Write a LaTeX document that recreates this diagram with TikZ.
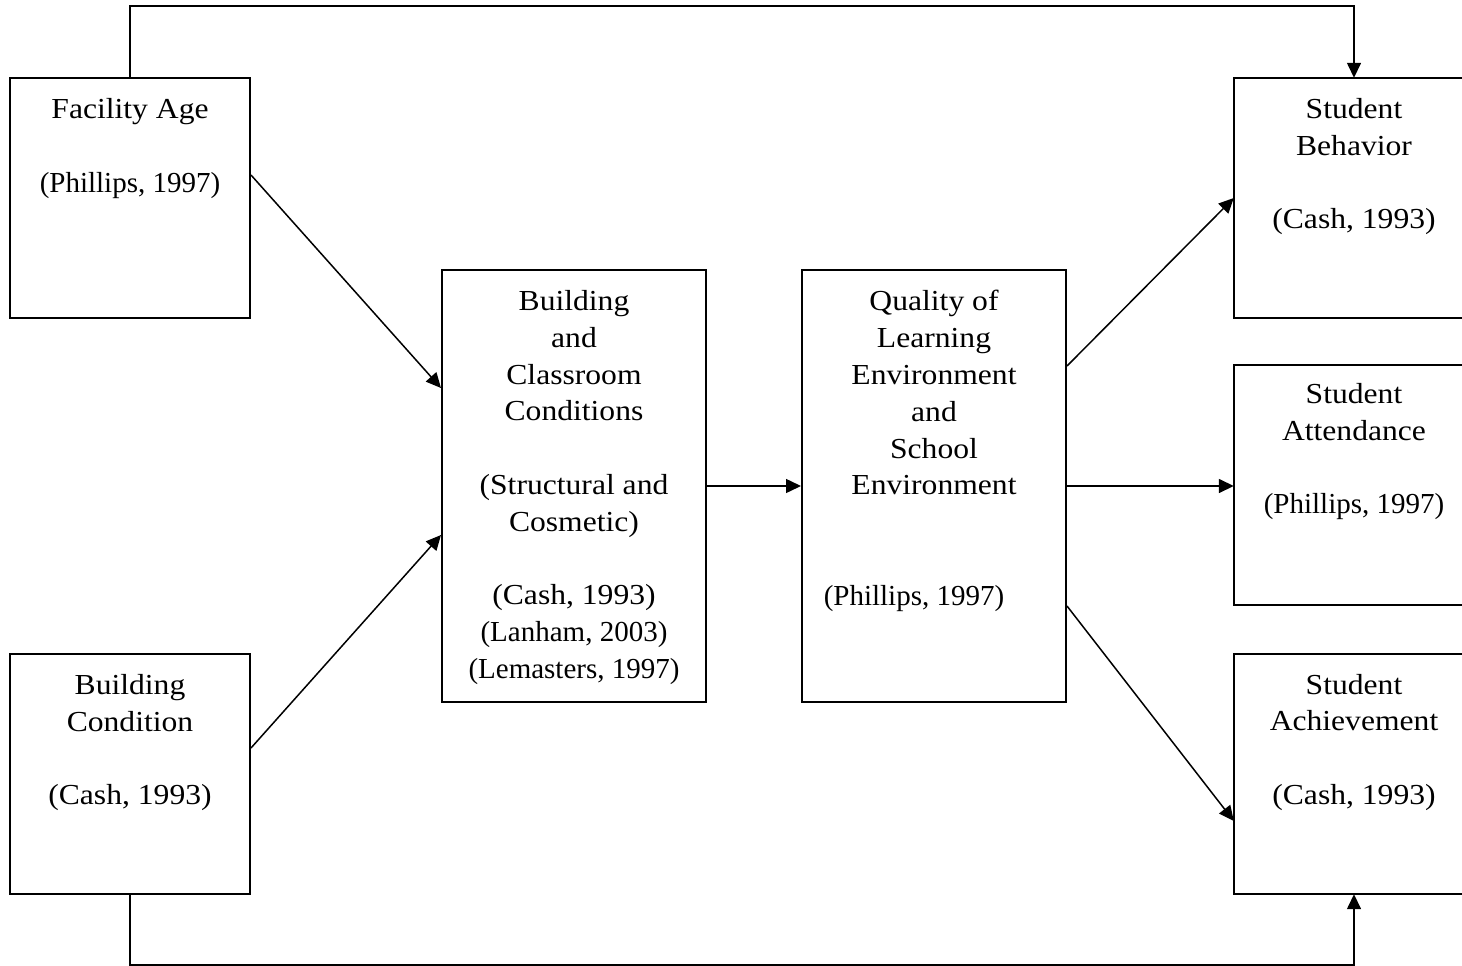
\documentclass[tikz,border=0pt]{standalone}
\usepackage{fontspec}
\setmainfont{Liberation Serif}
\newfontfamily\widefam{Liberation Serif}[FakeStretch=1.09]
\usetikzlibrary{arrows.meta}
\begin{document}
\begin{tikzpicture}[x=1pt,y=-1pt,
  box/.style={draw, line width=2pt, minimum width=240pt, minimum height=240pt, inner sep=0pt},
  openbox/.style={minimum width=240pt, minimum height=240pt, inner sep=0pt},
  tallbox/.style={draw, line width=2pt, minimum width=264pt, minimum height=432pt, inner sep=0pt},
  txt/.style={anchor=north, inner sep=0pt, align=center, font=\fontsize{29}{36.8}\widefam},
  conn/.style={line width=1.5pt, -{Triangle[length=15pt,width=14pt]}},
  edge3/.style={line width=2pt}]
\useasboundingbox (0,0) rectangle (1462,966);
% boxes
\node[box] (fa) at (130,198) {};
\node[box] (bc) at (130,774) {};
\node[tallbox] (bcc) at (574,486) {};
\node[tallbox] (q) at (934,486) {};
\node[openbox] (sb) at (1354,198) {};
\node[openbox] (sa) at (1354,485) {};
\node[openbox] (sach) at (1354,774) {};
\coordinate (re) at (1462,0);
\draw[edge3] (re |- sb.north) -- (sb.north west) -- (sb.south west) -- (re |- sb.south);
\draw[edge3] (re |- sa.north) -- (sa.north west) -- (sa.south west) -- (re |- sa.south);
\draw[edge3] (re |- sach.north) -- (sach.north west) -- (sach.south west) -- (re |- sach.south);
% texts
\node[txt] (fat) at (130,98.2) {Facility Age\\[36.8pt]{\rmfamily (Phillips, 1997)}};
\node[txt] (bct) at (130,674.2) {Building\\Condition\\[36.8pt](Cash, 1993)};
\node[txt] (bcct) at (574,290.2) {Building\\and\\Classroom\\Conditions\\[36.8pt](Structural and\\Cosmetic)\\[36.8pt](Cash, 1993)\\{\rmfamily (Lanham, 2003)}\\{\rmfamily (Lemasters, 1997)}};
\node[txt] (qt) at (934,290.2) {Quality of\\Learning\\Environment\\and\\School\\Environment};
\node[txt] (qcite) at (914,585.2) {\rmfamily (Phillips, 1997)};
\node[txt] (sbt) at (1354,98.2) {Student\\Behavior\\[36.8pt](Cash, 1993)};
\node[txt] (sat) at (1354,383.2) {Student\\Attendance\\[36.8pt]{\rmfamily (Phillips, 1997)}};
\node[txt] (sacht) at (1354,673.7) {Student\\Achievement\\[36.8pt](Cash, 1993)};
% connectors
\coordinate (top) at (742,6);
\coordinate (bot) at (742,965);
\draw[conn] (fa.north) |- (top) -| (sb.north);
\draw[conn] (bc.south) |- (bot) -| (sach.south);
\draw[conn] ([yshift=23pt]fa.east) -- ([yshift=98pt]bcc.west);
\draw[conn] ([yshift=26pt]bc.east) -- ([yshift=-49pt]bcc.west);
\draw[conn] (bcc.east) -- (q.west);
\draw[conn] ([yshift=120pt]q.east) -- (sb.west);
\draw[conn] (q.east) -- (q.east -| sa.west);
\draw[conn] ([yshift=-120pt]q.east) -- ([yshift=-47pt]sach.west);
\end{tikzpicture}
\end{document}
